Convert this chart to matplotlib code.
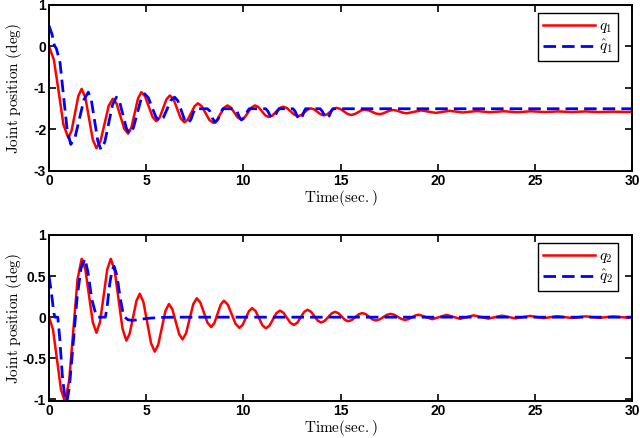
import matplotlib
matplotlib.use("Agg")
import matplotlib.pyplot as plt

plt.rcParams['mathtext.fontset'] = 'cm'
plt.rcParams['axes.unicode_minus'] = False

# joint 1 (top panel)
t_q1 = [0, 0.25, 0.50, 0.74, 0.99, 1.16, 1.335, 1.51, 1.68, 1.87, 2.06, 2.25, 2.44, 2.65, 2.86, 3.07,
        3.28, 3.48, 3.675, 3.87, 4.07, 4.24, 4.41, 4.58, 4.75, 4.94, 5.135, 5.33, 5.52, 5.695, 5.87,
        6.045, 6.22, 6.41, 6.595, 6.78, 6.97, 7.14, 7.315, 7.49, 7.66, 7.86, 8.055, 8.25, 8.45, 8.63,
        8.815, 9.0, 9.18, 9.355, 9.53, 9.705, 9.88, 10.06, 10.24, 10.42, 10.6, 10.775, 10.95, 11.125,
        11.3, 11.49, 11.675, 11.86, 12.05, 12.24, 12.435, 12.63, 12.82, 12.98, 13.145, 13.31, 13.47,
        13.64, 13.81, 13.98, 14.15, 14.31, 14.475, 14.64, 14.8, 14.99, 15.175, 15.36, 15.55, 15.725,
        15.9, 16.075, 16.25, 16.44, 16.625, 16.81, 17.0, 17.175, 17.525, 17.7, 17.875, 18.225, 18.4,
        19.15, 19.9, 20.6, 21.3, 22.0, 22.7, 23.4, 24.1, 24.8, 25.5, 26.2, 26.9, 27.6, 28.3, 29.0,
        29.7, 30.0]
q1 = [0, -0.32, -1.10, -1.88, -2.20, -2.03, -1.61, -1.19, -1.02, -1.23, -1.735, -2.24, -2.45, -2.28,
      -1.855, -1.43, -1.26, -1.38, -1.68, -1.98, -2.10, -1.95, -1.60, -1.25, -1.10, -1.20, -1.45,
      -1.70, -1.80, -1.71, -1.49, -1.27, -1.18, -1.275, -1.505, -1.735, -1.83, -1.76, -1.60, -1.44,
      -1.37, -1.44, -1.605, -1.77, -1.84, -1.78, -1.63, -1.48, -1.42, -1.47, -1.59, -1.71, -1.76,
      -1.71, -1.59, -1.47, -1.42, -1.46, -1.56, -1.66, -1.70, -1.665, -1.575, -1.485, -1.45, -1.485,
      -1.565, -1.645, -1.68, -1.65, -1.585, -1.52, -1.49, -1.515, -1.575, -1.635, -1.66, -1.635,
      -1.57, -1.505, -1.48, -1.505, -1.565, -1.625, -1.65, -1.63, -1.585, -1.54, -1.52, -1.536,
      -1.575, -1.614, -1.63, -1.615, -1.545, -1.53, -1.542, -1.598, -1.61, -1.54, -1.60, -1.55,
      -1.59, -1.555, -1.585, -1.56, -1.585, -1.56, -1.58, -1.565, -1.58, -1.565, -1.58, -1.57,
      -1.578, -1.575]

t_q1_hat = [0, 0.15, 0.28, 0.38, 0.565, 0.75, 0.935, 1.12, 1.345, 1.57, 1.795, 2.02, 2.18, 2.345,
            2.51, 2.67, 2.87, 3.07, 3.27, 3.47, 3.64, 3.81, 3.98, 4.15, 4.34, 4.535, 4.73, 4.92,
            5.11, 5.305, 5.50, 5.69, 5.88, 6.075, 6.27, 6.46, 6.63, 6.80, 6.97, 7.14, 7.3, 7.42,
            7.52, 8.15, 8.28, 8.4, 8.55, 8.7, 8.85, 8.95, 9.55, 9.67, 9.78, 9.9, 10.05, 10.2, 10.3,
            11.15, 11.26, 11.38, 11.5, 11.63, 11.76, 11.85, 12.55, 12.66, 12.78, 12.9, 13.02,
            13.12, 13.2, 13.95, 14.06, 14.18, 14.3, 14.42, 14.53, 14.6, 30.0]
q1_hat = [0.5, 0.3, 0.02, -0.05, -0.387, -1.205, -2.02, -2.36, -2.176, -1.73, -1.284, -1.10, -1.30,
          -1.79, -2.28, -2.48, -2.30, -1.85, -1.40, -1.22, -1.35, -1.66, -1.97, -2.10, -1.96, -1.62,
          -1.28, -1.14, -1.235, -1.47, -1.70, -1.80, -1.715, -1.51, -1.30, -1.22, -1.31, -1.535,
          -1.76, -1.85, -1.76, -1.60, -1.50, -1.50, -1.56, -1.72, -1.83, -1.75, -1.58, -1.50,
          -1.50, -1.56, -1.69, -1.77, -1.72, -1.57, -1.50, -1.50, -1.56, -1.67, -1.72, -1.67,
          -1.55, -1.50, -1.50, -1.56, -1.69, -1.76, -1.70, -1.57, -1.50, -1.50, -1.56, -1.67,
          -1.73, -1.67, -1.55, -1.50, -1.50]

# joint 2 (bottom panel)
t_q2 = [0, 0.205, 0.41, 0.615, 0.82, 1.035, 1.25, 1.465, 1.68, 1.87, 2.06, 2.25, 2.44, 2.625, 2.81,
        2.995, 3.18, 3.38, 3.58, 3.78, 3.98, 4.15, 4.325, 4.50, 4.67, 4.86, 5.055, 5.25, 5.44, 5.62,
        5.805, 5.99, 6.17, 6.345, 6.52, 6.695, 6.87, 7.05, 7.235, 7.42, 7.6, 7.785, 7.97, 8.155,
        8.34, 8.505, 8.67, 8.835, 9.0, 9.2, 9.4, 9.6, 9.8, 9.96, 10.125, 10.29, 10.45, 10.63,
        10.805, 10.98, 11.16, 11.34, 11.52, 11.70, 11.88, 12.06, 12.24, 12.42, 12.6, 12.775, 12.95,
        13.125, 13.3, 13.475, 13.65, 13.825, 14.0, 14.18, 14.36, 14.54, 14.72, 14.89, 15.06, 15.23,
        15.4, 15.58, 15.76, 15.94, 16.12, 16.295, 16.47, 16.645, 16.82, 17.01, 17.195, 17.38, 17.57,
        17.76, 17.945, 18.13, 18.32, 18.5, 18.675, 18.85, 19.03, 19.72, 20.45, 21.15, 21.85, 22.6,
        23.3, 24.0, 24.75, 25.45, 26.15, 26.9, 27.6, 28.3, 29.05, 29.75, 30.0]
q2 = [0, -0.15, -0.515, -0.88, -1.03, -0.776, -0.16, 0.456, 0.71, 0.579, 0.26, -0.059, -0.19, -0.059,
      0.26, 0.579, 0.71, 0.565, 0.2125, -0.14, -0.285, -0.20, 0.0, 0.20, 0.285, 0.182, -0.0675,
      -0.317, -0.42, -0.335, -0.13, 0.075, 0.16, 0.097, -0.055, -0.207, -0.27, -0.197, -0.02,
      0.157, 0.23, 0.179, 0.055, -0.069, -0.12, -0.073, 0.04, 0.153, 0.20, 0.152, 0.035, -0.082,
      -0.13, -0.095, -0.01, 0.075, 0.11, 0.074, -0.0125, -0.099, -0.135, -0.104, -0.0275, 0.049,
      0.08, 0.054, -0.0075, -0.069, -0.095, -0.068, -0.0025, 0.063, 0.09, 0.067, 0.0125, -0.042,
      -0.065, -0.046, 0.0, 0.046, 0.065, 0.048, 0.0075, -0.033, -0.05, -0.035, 0.0, 0.035, 0.05,
      0.037, 0.005, -0.027, -0.04, -0.028, 0.0, 0.028, 0.04, 0.029, 0.0035, -0.022, -0.033, -0.024,
      -0.0015, 0.021, 0.03, -0.025, 0.028, -0.02, 0.022, -0.018, 0.018, -0.015, 0.015, -0.012,
      0.012, -0.01, 0.01, -0.008, 0.008, -0.006, -0.003]

t_q2_hat = [0, 0.12, 0.25, 0.3, 0.45, 0.55, 0.68, 0.8, 0.92, 1.05, 1.25, 1.45, 1.65, 1.85, 2.0, 2.2,
            2.4, 2.5, 2.9, 3.0, 3.12, 3.25, 3.35, 3.5, 3.65, 3.8, 3.9, 4.05, 4.3, 4.7, 5.2, 5.8,
            6.5, 30.0]
q2_hat = [0.5, 0.3, 0.05, 0.0, 0.0, -0.25, -0.7, -0.95, -1.03, -0.85, -0.3, 0.25, 0.6, 0.71, 0.55,
          0.22, 0.04, 0.0, 0.0, 0.15, 0.4, 0.58, 0.62, 0.5, 0.25, 0.06, 0.0, -0.03, -0.04, -0.025,
          -0.012, -0.003, 0.0, 0.0]

x_ticks = [0, 5, 10, 15, 20, 25, 30]
y_ticks_1 = [-3, -2, -1, 0, 1]
y_labels_1 = ['-3', '-2', '-1', '0', '1']
y_ticks_2 = [-1, -0.5, 0, 0.5, 1]
y_labels_2 = ['-1', '-0.5', '0', '0.5', '1']


def style_axes(ax, yticks, ylabels, ylim):
    ax.set_xlim(0, 30)
    ax.set_ylim(*ylim)
    ax.set_xticks(x_ticks)
    ax.set_xticklabels([str(x) for x in x_ticks])
    ax.set_yticks(yticks)
    ax.set_yticklabels(ylabels)
    ax.tick_params(direction='in', top=True, right=True, length=5, width=1.2, pad=2)
    for lab in ax.get_xticklabels() + ax.get_yticklabels():
        lab.set_fontweight('bold')
        lab.set_fontfamily('Liberation Sans')
        lab.set_fontsize(10)
    for sp in ax.spines.values():
        sp.set_linewidth(1.4)
    ax.set_xlabel(r'$\mathrm{Time(sec.)}$', fontsize=11)
    ax.set_ylabel(r'$\mathrm{Joint\ position\ (deg)}$', fontsize=11)
    ax.xaxis.set_label_coords(0.5, -0.102)
    ax.yaxis.set_label_coords(-0.043, 0.5)


fig = plt.figure(figsize=(6.4, 4.38), dpi=100)
ax1 = fig.add_axes([0.0766, 0.6096, 0.911, 0.379])
ax2 = fig.add_axes([0.0766, 0.0845, 0.911, 0.379])

ax1.plot(t_q1, q1, color='red', lw=1.8, label=r'$q_1$')
ax1.plot(t_q1_hat, q1_hat, color='blue', lw=2.0, dashes=(4.5, 2.2), label=r'$\hat{q}_1$')
style_axes(ax1, y_ticks_1, y_labels_1, (-3, 1))

ax2.plot(t_q2, q2, color='red', lw=1.8, label=r'$q_2$')
ax2.plot(t_q2_hat, q2_hat, color='blue', lw=2.0, dashes=(4.5, 2.2), label=r'$\hat{q}_2$')
style_axes(ax2, y_ticks_2, y_labels_2, (-1.02, 1))

for ax in (ax1, ax2):
    leg = ax.legend(loc='upper right', bbox_to_anchor=(0.976, 0.95), borderaxespad=0,
                    fontsize=11, handlelength=3.4, handletextpad=0.3, labelspacing=0.2,
                    borderpad=0.3, fancybox=False, framealpha=1, edgecolor='black')
    leg.get_frame().set_linewidth(1.0)

fig.savefig('out.png', dpi=100)
